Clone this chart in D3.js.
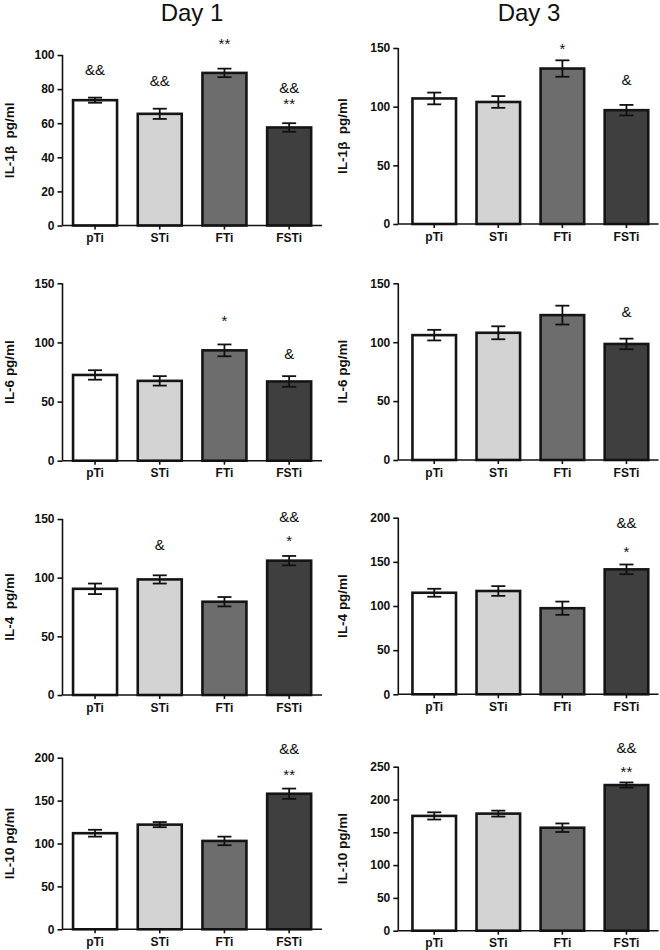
<!DOCTYPE html>
<html>
<head>
<meta charset="utf-8">
<script src="https://cdn.jsdelivr.net/npm/d3@7"></script>
<style>
  html, body { margin: 0; padding: 0; background: #fff; }
  svg { display: block; font-family: "Liberation Sans", Arial, sans-serif; }
  text { white-space: pre; }
</style>
</head>
<body>
<svg id="chart" width="660" height="950"></svg>
<script>
// ---------- data ----------
const categories = ["pTi", "STi", "FTi", "FSTi"];
const days = ["Day 1", "Day 3"];

// y-axis titles (row-major: Day1, Day3 per row)
const yTitles = [
  "IL-1β  pg/ml", "IL-1β  pg/ml",
  "IL-6 pg/ml", "IL-6 pg/ml",
  "IL-4  pg/ml", "IL-4 pg/ml",
  "IL-10 pg/ml", "IL-10 pg/ml"
];

const il1bDay1 = [73.5, 65.5, 89.5, 57.5];
const il1bDay1Err = [1.5, 3, 2.5, 2.5];
const il1bDay3 = [107, 104, 132.5, 97];
const il1bDay3Err = [5, 5, 7, 4.5];

const il6Day1 = [72.5, 67.5, 93.3, 67];
const il6Day1Err = [4, 4, 5, 4.5];
const il6Day3 = [106, 108, 123, 98.5];
const il6Day3Err = [4.5, 5.5, 8, 4.5];

const il4Day1 = [90.5, 98.5, 79.5, 114.5];
const il4Day1Err = [4.5, 3.5, 4, 4];
const il4Day3 = [115, 117, 97.5, 141.5];
const il4Day3Err = [4.5, 5.5, 7.5, 5.5];

const il10Day1 = [112, 122, 103, 158];
const il10Day1Err = [4, 3, 5, 6];
const il10Day3 = [175, 178.5, 157, 222];
const il10Day3Err = [5.5, 4.5, 6.5, 4];

const ticksIl1bDay1 = [0, 20, 40, 60, 80, 100];
const ticks150 = [0, 50, 100, 150];
const ticks200 = [0, 50, 100, 150, 200];
const ticks250 = [0, 50, 100, 150, 200, 250];

// significance marks: bar index, text, level (data units, baseline)
const marksIl1bDay1 = [
  {i: 0, t: "&&", v: 88.3}, {i: 1, t: "&&", v: 81.9},
  {i: 2, t: "**", v: 103.6}, {i: 3, t: "&&", v: 77.8}, {i: 3, t: "**", v: 68.5}
];
const marksIl1bDay3 = [{i: 2, t: "*", v: 145}, {i: 3, t: "&", v: 118.5}];
const marksIl6Day1 = [{i: 2, t: "*", v: 114}, {i: 3, t: "&", v: 85.7}];
const marksIl6Day3 = [{i: 3, t: "&", v: 121.4}];
const marksIl4Day1 = [{i: 1, t: "&", v: 123.6}, {i: 3, t: "&&", v: 147.7}, {i: 3, t: "*", v: 127.2}];
const marksIl4Day3 = [{i: 3, t: "&&", v: 188}, {i: 3, t: "*", v: 155.7}];
const marksIl10Day1 = [{i: 3, t: "&&", v: 204}, {i: 3, t: "**", v: 173.9}];
const marksIl10Day3 = [{i: 3, t: "&&", v: 270.4}, {i: 3, t: "**", v: 235}];

const panels = [
  {means: il1bDay1, errs: il1bDay1Err, ticks: ticksIl1bDay1, marks: marksIl1bDay1},
  {means: il1bDay3, errs: il1bDay3Err, ticks: ticks150, marks: marksIl1bDay3},
  {means: il6Day1, errs: il6Day1Err, ticks: ticks150, marks: marksIl6Day1},
  {means: il6Day3, errs: il6Day3Err, ticks: ticks150, marks: marksIl6Day3},
  {means: il4Day1, errs: il4Day1Err, ticks: ticks150, marks: marksIl4Day1},
  {means: il4Day3, errs: il4Day3Err, ticks: ticks200, marks: marksIl4Day3},
  {means: il10Day1, errs: il10Day1Err, ticks: ticks200, marks: marksIl10Day1},
  {means: il10Day3, errs: il10Day3Err, ticks: ticks250, marks: marksIl10Day3}
];

// ---------- layout / style ----------
const barFill = ["#ffffff", "#d3d3d3", "#6d6d6d", "#3f3f3f"];
const columns = [
  {axisX: 62.5, range: [62.7, 321.5], end: 322, titleX: 192, yTitleX: 14},
  {axisX: 398.3, range: [402.2, 658.5], end: 658.5, titleX: 529, yTitleX: 347}
];
// [bottom pixel, top pixel] for each panel
const rowsPx = [
  [225.5, 55], [224, 48],
  [460.7, 283.3], [460, 283.3],
  [695, 519], [694.3, 517.7],
  [929.3, 757.7], [930.7, 766.7]
];

const svg = d3.select("#chart");

// column titles
svg.selectAll("text.day").data(days).join("text")
  .attr("class", "day")
  .attr("x", (d, i) => columns[i].titleX)
  .attr("y", 21)
  .attr("text-anchor", "middle")
  .attr("font-size", 24)
  .attr("fill", "#111")
  .text(d => d);

panels.forEach((p, k) => {
  const col = columns[k % 2];
  const [yb, yt] = rowsPx[k];
  const ymax = p.ticks[p.ticks.length - 1];
  const x = d3.scaleBand().domain(categories).range(col.range)
    .paddingInner(0.32).paddingOuter(0.16);
  const y = d3.scaleLinear().domain([0, ymax]).range([yb, yt]);
  const g = svg.append("g");

  // bars
  g.selectAll("rect.bar").data(p.means).join("rect")
    .attr("class", "bar")
    .attr("x", (d, i) => x(categories[i]))
    .attr("width", x.bandwidth())
    .attr("y", d => y(d))
    .attr("height", d => y(0) - y(d))
    .attr("fill", (d, i) => barFill[i])
    .attr("stroke", "#151515")
    .attr("stroke-width", 2.6);

  // error bars
  const cap = 7;
  const eb = g.selectAll("g.err").data(p.means).join("g").attr("class", "err")
    .attr("stroke", "#111").attr("stroke-width", 1.8);
  eb.append("line")
    .attr("x1", (d, i) => x(categories[i]) + x.bandwidth() / 2)
    .attr("x2", (d, i) => x(categories[i]) + x.bandwidth() / 2)
    .attr("y1", (d, i) => y(d - p.errs[i]))
    .attr("y2", (d, i) => y(d + p.errs[i]));
  eb.append("line")
    .attr("x1", (d, i) => x(categories[i]) + x.bandwidth() / 2 - cap)
    .attr("x2", (d, i) => x(categories[i]) + x.bandwidth() / 2 + cap)
    .attr("y1", (d, i) => y(d + p.errs[i]))
    .attr("y2", (d, i) => y(d + p.errs[i]));
  eb.append("line")
    .attr("x1", (d, i) => x(categories[i]) + x.bandwidth() / 2 - cap)
    .attr("x2", (d, i) => x(categories[i]) + x.bandwidth() / 2 + cap)
    .attr("y1", (d, i) => y(d - p.errs[i]))
    .attr("y2", (d, i) => y(d - p.errs[i]));

  // y axis
  const yAxis = d3.axisLeft(y).tickValues(p.ticks).tickSize(5).tickPadding(3).tickFormat(d3.format("d"));
  const ya = g.append("g").attr("transform", `translate(${col.axisX},0)`).call(yAxis);
  ya.select(".domain").attr("d", `M0,${yb}V${yt}`).attr("stroke", "#111").attr("stroke-width", 1.6);
  ya.selectAll(".tick line").attr("stroke", "#111").attr("stroke-width", 1.6);
  ya.selectAll(".tick text").attr("font-size", 12).attr("font-weight", "bold").attr("fill", "#111")
    .attr("font-family", "Liberation Sans, Arial, sans-serif");

  // x axis
  const xAxis = d3.axisBottom(x).tickSize(4).tickPadding(4);
  const xa = g.append("g").attr("transform", `translate(0,${yb})`).call(xAxis);
  xa.select(".domain").attr("d", `M${col.axisX},0H${col.end}`).attr("stroke", "#111").attr("stroke-width", 1.6);
  xa.selectAll(".tick line").attr("stroke", "#111").attr("stroke-width", 1.6);
  xa.selectAll(".tick text").attr("font-size", 12).attr("font-weight", "bold").attr("fill", "#111")
    .attr("font-family", "Liberation Sans, Arial, sans-serif");

  // y title
  g.append("text")
    .attr("transform", `translate(${col.yTitleX},${(yb + yt) / 2}) rotate(-90)`)
    .attr("text-anchor", "middle")
    .attr("font-size", 13.5)
    .attr("font-weight", "bold")
    .attr("fill", "#111")
    .text(yTitles[k]);

  // significance marks
  g.selectAll("text.mark").data(p.marks).join("text")
    .attr("class", "mark")
    .attr("x", d => x(categories[d.i]) + x.bandwidth() / 2)
    .attr("y", d => y(d.v))
    .attr("text-anchor", "middle")
    .attr("font-size", 15)
    .attr("fill", "#111")
    .text(d => d.t);
});
</script>
</body>
</html>
